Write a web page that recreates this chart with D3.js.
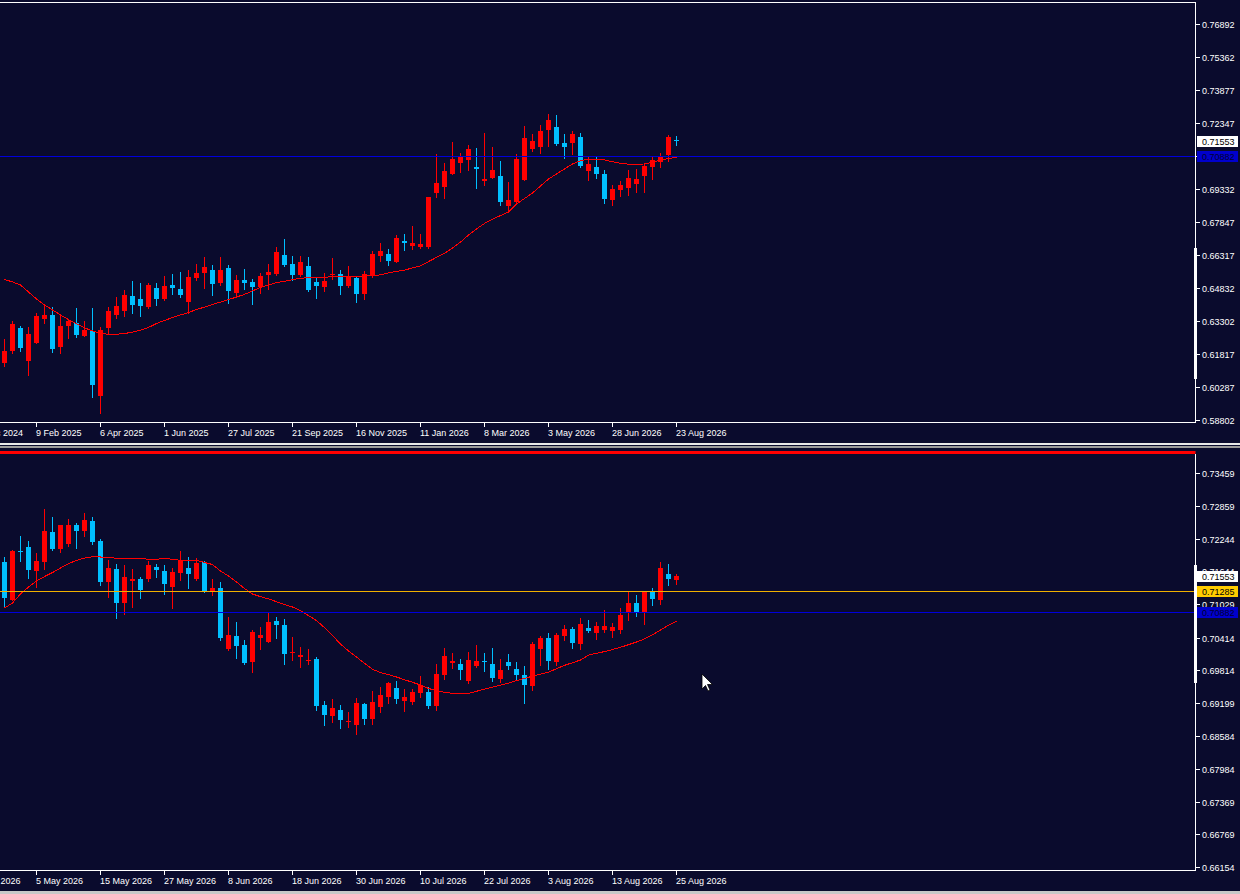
<!DOCTYPE html>
<html lang="en">
<head>
<meta charset="UTF-8">
<title>chart</title>
<style type="text/css">
  body { margin: 0; background: #0a0b2d; }
  svg { display: block; }
  text { font-family: "Liberation Sans", Arial, sans-serif; font-size: 9px; }
</style>
</head>
<body>
<svg id="chart" width="1240" height="894"></svg>

<script src="https://d3js.org/d3.v7.min.js"></script>
<script>
"use strict";

// ---- upper window: weekly bars ----
var wOpen  = [0.6142,0.6197,0.6301,0.6151,0.6233,0.6340,0.6360,0.6214,0.6310,0.6322,0.6265,0.6287,0.5991,0.6302,0.6360,0.6378,0.6447,0.6433,0.6397,0.6483,
              0.6433,0.6497,0.6479,0.6419,0.6529,0.6552,0.6565,0.6506,0.6575,0.6460,0.6520,0.6511,0.6488,0.6543,0.6547,0.6634,0.6593,0.6543,0.6584,0.6511,
              0.6488,0.6541,0.6547,0.6492,0.6529,0.6456,0.6538,0.6629,0.6639,0.6602,0.6698,0.6675,0.6670,0.6670,0.6917,0.6945,0.7004,0.7054,0.7068,0.7036,
              0.6972,0.6986,0.6995,0.6858,0.6876,0.6977,0.7118,0.7127,0.7205,0.7219,0.7146,0.7146,0.7173,0.7018,0.7036,0.7004,0.6885,0.6931,0.6940,0.6958,
              0.6995,0.7036,0.7059,0.7091,0.7160];
var wHigh  = [0.6250,0.6332,0.6310,0.6304,0.6368,0.6410,0.6397,0.6364,0.6343,0.6392,0.6331,0.6392,0.6304,0.6395,0.6442,0.6474,0.6515,0.6506,0.6506,0.6506,
              0.6538,0.6547,0.6556,0.6565,0.6593,0.6625,0.6588,0.6625,0.6588,0.6543,0.6570,0.6524,0.6552,0.6593,0.6670,0.6707,0.6629,0.6629,0.6625,0.6533,
              0.6552,0.6620,0.6565,0.6584,0.6538,0.6561,0.6652,0.6689,0.6661,0.6725,0.6730,0.6766,0.6730,0.6901,0.7095,0.7054,0.7150,0.7100,0.7136,0.7123,
              0.7191,0.7127,0.7063,0.6967,0.7095,0.7223,0.7187,0.7228,0.7278,0.7273,0.7187,0.7200,0.7191,0.7082,0.7086,0.7022,0.6954,0.6972,0.7022,0.7027,
              0.7050,0.7082,0.7100,0.7182,0.7177];
var wLow   = [0.6128,0.6188,0.6197,0.6087,0.6232,0.6325,0.6192,0.6188,0.6256,0.6258,0.6264,0.5987,0.5914,0.6276,0.6345,0.6355,0.6371,0.6355,0.6392,0.6406,
              0.6428,0.6456,0.6442,0.6369,0.6520,0.6483,0.6451,0.6497,0.6415,0.6451,0.6479,0.6410,0.6460,0.6479,0.6543,0.6584,0.6520,0.6538,0.6470,0.6437,
              0.6470,0.6524,0.6456,0.6488,0.6419,0.6433,0.6533,0.6607,0.6588,0.6600,0.6657,0.6661,0.6666,0.6666,0.6899,0.6894,0.7002,0.7013,0.7022,0.6940,
              0.6954,0.6984,0.6862,0.6830,0.6874,0.6975,0.7109,0.7100,0.7132,0.7136,0.7077,0.7095,0.7036,0.6977,0.6986,0.6871,0.6862,0.6904,0.6908,0.6922,
              0.6922,0.6981,0.7036,0.7063,0.7136];
var wClose = [0.6195,0.6319,0.6211,0.6273,0.6355,0.6360,0.6205,0.6310,0.6334,0.6269,0.6291,0.6040,0.6291,0.6378,0.6401,0.6451,0.6406,0.6401,0.6497,0.6433,
              0.6492,0.6483,0.6451,0.6533,0.6552,0.6579,0.6501,0.6565,0.6470,0.6520,0.6506,0.6488,0.6538,0.6556,0.6648,0.6588,0.6543,0.6602,0.6474,0.6492,
              0.6515,0.6548,0.6492,0.6538,0.6456,0.6547,0.6639,0.6652,0.6607,0.6711,0.6689,0.6689,0.6684,0.6899,0.6963,0.7018,0.7072,0.7086,0.7118,0.7027,
              0.6981,0.7022,0.6876,0.6885,0.7072,0.7168,0.7155,0.7200,0.7251,0.7141,0.7127,0.7187,0.7040,0.7050,0.7004,0.6890,0.6935,0.6954,0.6986,0.6981,
              0.7040,0.7068,0.7086,0.7173,0.71553];
var wMa    = [0.6522,0.6511,0.6497,0.6465,0.6433,0.6406,0.6383,0.6360,0.6339,0.6319,0.6301,0.6287,0.6276,0.6272,0.6272,0.6275,0.6282,0.6291,0.6303,0.6321,
              0.6335,0.6348,0.6360,0.6371,0.6385,0.6396,0.6408,0.6419,0.6430,0.6442,0.6454,0.6470,0.6486,0.6497,0.6508,0.6514,0.6521,0.6528,0.6530,0.6531,
              0.6533,0.6534,0.6535,0.6535,0.6536,0.6537,0.6540,0.6543,0.6552,0.6559,0.6565,0.6575,0.6584,0.6604,0.6623,0.6641,0.6666,0.6693,0.6725,0.6753,
              0.6778,0.6798,0.6814,0.6830,0.6867,0.6892,0.6917,0.6949,0.6981,0.7004,0.7027,0.7050,0.7065,0.7072,0.7072,0.7068,0.7060,0.7053,0.7049,0.7047,
              0.7050,0.7058,0.7068,0.7075,0.7080];
var wDates = ["15 Dec 2024","9 Feb 2025","6 Apr 2025","1 Jun 2025","27 Jul 2025","21 Sep 2025","16 Nov 2025","11 Jan 2026","8 Mar 2026","3 May 2026","28 Jun 2026","23 Aug 2026"];
var wLevels = [0.76892,0.75362,0.73877,0.72347,0.70862,0.69332,0.67847,0.66317,0.64832,0.63302,0.61817,0.60287,0.58802];

// ---- lower window: daily bars ----
var dOpen  = [0.71814,0.71110,0.72018,0.72092,0.71647,0.71814,0.72370,0.72055,0.72148,0.72500,0.72389,0.72574,0.72203,0.71443,0.71684,0.71054,0.71462,0.71499,0.71499,0.71722,
              0.71647,0.71351,0.71610,0.71703,0.71499,0.71814,0.71258,0.71332,0.70201,0.70442,0.70275,0.69960,0.70405,0.70331,0.70720,0.70646,0.70127,0.70053,0.69978,0.70016,
              0.69163,0.68959,0.69070,0.68848,0.68792,0.69181,0.68904,0.69126,0.69311,0.69478,0.69237,0.69218,0.69385,0.69404,0.69144,0.69719,0.69941,0.69923,0.69608,0.69886,
              0.69978,0.69923,0.69645,0.69960,0.69830,0.69719,0.69515,0.70201,0.70405,0.69960,0.70442,0.70572,0.70294,0.70590,0.70498,0.70553,0.70535,0.70553,0.70869,0.71054,
              0.70887,0.71258,0.71110,0.71592,0.71480];
var dHigh  = [0.71907,0.72037,0.72296,0.72203,0.71981,0.72797,0.72648,0.72505,0.72611,0.72537,0.72722,0.72648,0.72240,0.71851,0.71777,0.71759,0.71684,0.71536,0.71833,0.71777,
              0.71759,0.71703,0.72018,0.71907,0.71888,0.71833,0.71499,0.71443,0.70794,0.70702,0.70368,0.70553,0.70609,0.70869,0.70794,0.70757,0.70424,0.70238,0.70201,0.70053,
              0.69237,0.69274,0.69163,0.69033,0.69292,0.69200,0.69422,0.69496,0.69589,0.69608,0.69459,0.69459,0.69700,0.69496,0.69923,0.70220,0.70127,0.70016,0.70145,0.70275,
              0.70127,0.70220,0.70016,0.70108,0.69960,0.69886,0.70331,0.70442,0.70498,0.70498,0.70646,0.70609,0.70776,0.70739,0.70702,0.70924,0.70683,0.70961,0.71277,0.71203,
              0.71277,0.71332,0.71814,0.71777,0.71592];
var dLow   = [0.71004,0.71105,0.71833,0.71518,0.71351,0.71684,0.72037,0.72000,0.72111,0.72074,0.72296,0.72148,0.71388,0.71165,0.70776,0.70850,0.70980,0.71147,0.71462,0.71536,
              0.71221,0.70961,0.71480,0.71332,0.71480,0.71250,0.71203,0.70368,0.70183,0.70034,0.69923,0.69775,0.70201,0.70326,0.70405,0.69923,0.69997,0.69867,0.69923,0.69070,
              0.68792,0.68848,0.68736,0.68755,0.68625,0.68811,0.68811,0.69033,0.69200,0.69200,0.69052,0.69181,0.69311,0.69107,0.69070,0.69645,0.69849,0.69645,0.69571,0.69867,
              0.69793,0.69608,0.69589,0.69830,0.69626,0.69200,0.69441,0.69904,0.69830,0.69904,0.70368,0.70220,0.70201,0.70516,0.70387,0.70516,0.70424,0.70498,0.70739,0.70813,
              0.70664,0.71017,0.71036,0.71388,0.71406];
var dClose = [0.71147,0.72018,0.72000,0.71666,0.71833,0.72389,0.72055,0.72500,0.72500,0.72389,0.72593,0.72185,0.71443,0.71703,0.71054,0.71536,0.71499,0.71295,0.71759,0.71666,
              0.71406,0.71629,0.71851,0.71592,0.71796,0.71258,0.71332,0.70405,0.70461,0.70257,0.69941,0.70516,0.70461,0.70702,0.70646,0.70108,0.70145,0.70090,0.69997,0.69144,
              0.68978,0.69107,0.68885,0.68866,0.69200,0.68904,0.69218,0.69348,0.69570,0.69274,0.69311,0.69404,0.69533,0.69144,0.69737,0.70071,0.69978,0.69812,0.69997,0.69978,
              0.69960,0.69663,0.69812,0.69886,0.69719,0.69533,0.70294,0.70405,0.69978,0.70461,0.70572,0.70312,0.70664,0.70535,0.70627,0.70627,0.70609,0.70832,0.71054,0.70869,
              0.71258,0.71129,0.71703,0.71499,0.71553];
var dMa    = [0.70961,0.71054,0.71221,0.71351,0.71462,0.71545,0.71619,0.71703,0.71786,0.71842,0.71888,0.71912,0.71907,0.71901,0.71883,0.71883,0.71883,0.71883,0.71864,0.71864,
              0.71883,0.71864,0.71846,0.71846,0.71846,0.71805,0.71768,0.71647,0.71555,0.71443,0.71323,0.71221,0.71171,0.71132,0.71078,0.71026,0.70980,0.70911,0.70822,0.70729,
              0.70596,0.70451,0.70294,0.70164,0.70053,0.69936,0.69827,0.69762,0.69728,0.69682,0.69632,0.69584,0.69533,0.69470,0.69428,0.69398,0.69380,0.69380,0.69380,0.69417,
              0.69459,0.69493,0.69533,0.69567,0.69615,0.69658,0.69697,0.69737,0.69771,0.69836,0.69899,0.69947,0.69997,0.70086,0.70123,0.70153,0.70192,0.70233,0.70281,0.70331,
              0.70388,0.70464,0.70553,0.70642,0.70720];
var dDates = ["23 Apr 2026","5 May 2026","15 May 2026","27 May 2026","8 Jun 2026","18 Jun 2026","30 Jun 2026","10 Jul 2026","22 Jul 2026","3 Aug 2026","13 Aug 2026","25 Aug 2026"];
var dLevels = [0.73459,0.72859,0.72244,0.71644,0.71029,0.70414,0.69814,0.69199,0.68584,0.67984,0.67369,0.66769,0.66154];

// bar index of each date label (one every 8 bars)
var tickBars = [-4,4,12,20,28,36,44,52,60,68,76,84];

var lastPrice = 0.71553;
var bluePrice = 0.70882;
var yellowPrice = 0.71285;

var bg = "#0a0b2d";
var upColor = "#ff0000";
var downColor = "#00bfff";
var plotRight = 1195.5;

var svg = d3.select("#chart");

svg.append("rect")
  .attr("width",1240).attr("height",894)
  .attr("fill",bg);

// bar index -> pixel, 8px per bar
var x = d3.scaleLinear().domain([-0.5,149]).range([0,1196]);

function drawPanel(p){
	var g = svg.append("g");
	var clipId = "clip" + p.id;

	svg.append("clipPath").attr("id",clipId)
	  .append("rect")
	  .attr("x",0).attr("y",p.top)
	  .attr("width",plotRight).attr("height",p.bottom - p.top);

	var plot = g.append("g").attr("clip-path","url(#" + clipId + ")");

	var bars = p.open.map(function(o,i){
		return {i:i, o:o, h:p.high[i], l:p.low[i], c:p.close[i]};
	});

	// wicks
	plot.selectAll("line.wick")
	  .data(bars)
	  .enter()
	  .append("line")
	  .attr("class","wick")
	  .attr("x1",function(d){return Math.round(x(d.i)) + 0.5;})
	  .attr("x2",function(d){return Math.round(x(d.i)) + 0.5;})
	  .attr("y1",function(d){return Math.round(p.y(d.h));})
	  .attr("y2",function(d){return Math.round(p.y(d.l)) + 1;})
	  .attr("stroke",function(d){return d.c >= d.o ? upColor : downColor;})
	  .attr("stroke-width",1)
	  .attr("shape-rendering","crispEdges");

	// bodies
	plot.selectAll("rect.body")
	  .data(bars)
	  .enter()
	  .append("rect")
	  .attr("class","body")
	  .attr("x",function(d){return Math.round(x(d.i)) - 2;})
	  .attr("y",function(d){return Math.round(p.y(Math.max(d.o,d.c)));})
	  .attr("width",5)
	  .attr("height",function(d){
		var t = Math.round(p.y(Math.max(d.o,d.c)));
		var b = Math.round(p.y(Math.min(d.o,d.c)));
		return Math.max(1,b - t);
	  })
	  .attr("fill",function(d){return d.c >= d.o ? upColor : downColor;})
	  .attr("shape-rendering","crispEdges");

	// moving average
	var line = d3.line()
	  .x(function(d,i){return Math.round(x(i)) + 0.5;})
	  .y(function(d){return p.y(d);});

	plot.append("path")
	  .datum(p.ma)
	  .attr("d",line)
	  .attr("fill","none")
	  .attr("stroke",upColor)
	  .attr("stroke-width",1)
	  .attr("shape-rendering","crispEdges");

	// horizontal price lines
	p.hlines.forEach(function(h){
		var yy = Math.round(p.y(h.price)) + 0.5;
		plot.append("line")
		  .attr("x1",0).attr("x2",plotRight)
		  .attr("y1",yy).attr("y2",yy)
		  .attr("stroke",h.color)
		  .attr("stroke-width",1)
		  .attr("shape-rendering","crispEdges");
	});

	// frame
	g.append("line")
	  .attr("x1",plotRight).attr("x2",plotRight)
	  .attr("y1",p.top).attr("y2",p.bottom)
	  .attr("stroke","#ffffff").attr("stroke-width",1)
	  .attr("shape-rendering","crispEdges");
	g.append("line")
	  .attr("x1",0).attr("x2",plotRight)
	  .attr("y1",p.bottom).attr("y2",p.bottom)
	  .attr("stroke","#ffffff").attr("stroke-width",1)
	  .attr("shape-rendering","crispEdges");

	// price scale
	var lv = g.selectAll("g.level")
	  .data(p.levels)
	  .enter()
	  .append("g")
	  .attr("class","level")
	  .attr("transform",function(d){return "translate(0," + Math.round(p.y(d)) + ")";});
	lv.append("line")
	  .attr("x1",plotRight).attr("x2",plotRight + 4)
	  .attr("y1",0.5).attr("y2",0.5)
	  .attr("stroke","#ffffff")
	  .attr("shape-rendering","crispEdges");
	lv.append("text")
	  .attr("x",1202).attr("y",4)
	  .attr("fill","#ffffff")
	  .text(function(d){return d.toFixed(5);});

	// scroll mark on the scale
	g.append("rect")
	  .attr("x",1194).attr("y",p.mark[0])
	  .attr("width",3).attr("height",p.mark[1] - p.mark[0])
	  .attr("fill","#ffffff");

	// price tags
	p.tags.forEach(function(t){
		var yy = Math.round(p.y(t.price));
		g.append("rect")
		  .attr("x",1197).attr("y",yy - 5)
		  .attr("width",41).attr("height",11)
		  .attr("fill",t.fill);
		g.append("text")
		  .attr("x",1202).attr("y",yy + 4)
		  .attr("fill",t.text)
		  .text(t.price.toFixed(5));
	});

	// time scale
	var tk = g.selectAll("g.tick")
	  .data(p.dates)
	  .enter()
	  .append("g")
	  .attr("class","tick")
	  .attr("transform",function(d,i){return "translate(" + Math.round(x(tickBars[i])) + "," + p.bottom + ")";});
	tk.append("line")
	  .attr("x1",0.5).attr("x2",0.5)
	  .attr("y1",0).attr("y2",4)
	  .attr("stroke","#ffffff")
	  .attr("shape-rendering","crispEdges");
	tk.append("text")
	  .attr("x",0).attr("y",13)
	  .attr("fill","#ffffff")
	  .text(function(d){return d;});
}

// upper window
svg.append("line")
  .attr("x1",0).attr("x2",plotRight)
  .attr("y1",2.5).attr("y2",2.5)
  .attr("stroke","#ffffff")
  .attr("shape-rendering","crispEdges");

drawPanel({
	id:"w", top:3, bottom:422.5,
	y: d3.scaleLinear().domain([0.58802,0.76892]).range([420,24]),
	open:wOpen, high:wHigh, low:wLow, close:wClose, ma:wMa,
	levels:wLevels, dates:wDates,
	hlines:[{price:bluePrice, color:"#0000dc"}],
	tags:[{price:lastPrice, fill:"#ffffff", text:"#000000"},
	      {price:bluePrice, fill:"#0000cd", text:"#000033"}],
	mark:[248,379]
});

// splitter between windows
svg.append("rect").attr("x",0).attr("y",443).attr("width",1240).attr("height",2).attr("fill","#e8e8e8");
svg.append("rect").attr("x",0).attr("y",446).attr("width",1240).attr("height",2).attr("fill","#9a9a9a");

// lower window
svg.append("rect")
  .attr("x",0).attr("y",451)
  .attr("width",plotRight).attr("height",3)
  .attr("fill","#ff0000");

drawPanel({
	id:"d", top:454, bottom:870.5,
	y: d3.scaleLinear().domain([0.66154,0.73459]).range([867.3,473.3]),
	open:dOpen, high:dHigh, low:dLow, close:dClose, ma:dMa,
	levels:dLevels, dates:dDates,
	hlines:[{price:yellowPrice, color:"#f0b000"},{price:bluePrice, color:"#0000dc"}],
	tags:[{price:lastPrice, fill:"#ffffff", text:"#000000"},
	      {price:yellowPrice, fill:"#ffcc00", text:"#000000"},
	      {price:bluePrice, fill:"#0000cd", text:"#000033"}],
	mark:[565,683]
});

// window bottom edge
svg.append("rect").attr("x",0).attr("y",891).attr("width",1240).attr("height",3).attr("fill","#c8c8c8");

// mouse pointer
svg.append("path")
  .attr("transform","translate(702,674)")
  .attr("d","M0,0 L0,15 L3.5,11.5 L6,17 L8,16 L5.5,10.5 L10.5,10.5 Z")
  .attr("fill","#ffffff")
  .attr("stroke","#000000")
  .attr("stroke-width",0.8);
</script>
</body>
</html>
